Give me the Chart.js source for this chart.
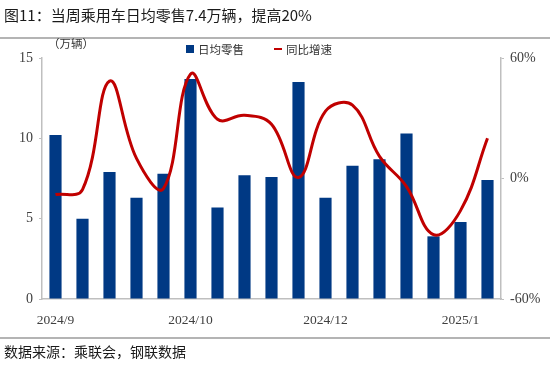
<!DOCTYPE html>
<html>
<head>
<meta charset="utf-8">
<script src="https://cdn.jsdelivr.net/npm/chart.js@4/dist/chart.umd.min.js"></script>
<style>
  html, body { margin: 0; padding: 0; background: #fff; }
  #wrap { position: relative; width: 550px; height: 367px; overflow: hidden;
          font-family: "Noto Sans CJK SC", "Noto Sans", sans-serif; color: #222; }
  #chart { position: absolute; left: 0; top: 0; }
  .txt { position: absolute; white-space: nowrap; }
  #title { left: 4px; top: 4px; font-size: 15px; color: #1a1a1a; }
  .rule { position: absolute; left: 0; width: 550px; border-top: 2px solid #b4b4b4; }
  #unit { left: 48px; top: 35px; font-size: 11.5px; color: #333; }
  #legend { left: 186px; top: 39px; font-size: 11.5px; color: #333; }
  #legend span { display: inline-block; vertical-align: middle; }
  .sw-bar { width: 8px; height: 8px; background: #003984; margin-right: 4px; }
  .sw-line { width: 8px; height: 2px; background: #c00000; margin-left: 30px; margin-right: 4px; }
  #source { left: 4px; top: 341px; font-size: 14px; color: #1a1a1a; }
</style>
</head>
<body>
<div id="wrap">
  <canvas id="chart" width="550" height="367"></canvas>
  <div class="txt" id="title">图11：当周乘用车日均零售7.4万辆，提高20%</div>
  <div class="rule" style="top:37px"></div>
  <div class="txt" id="unit">（万辆）</div>
  <div class="txt" id="legend"><span class="sw-bar"></span><span>日均零售</span><span class="sw-line"></span><span>同比增速</span></div>
  <div class="rule" style="top:337px"></div>
  <div class="txt" id="source">数据来源：乘联会，钢联数据</div>
</div>
<script>
// weekly categories, only some carry a visible label (as in the source chart)
const categories = ['2024/9', '', '', '', '', '2024/10', '', '', '', '', '2024/12', '', '', '', '', '2025/1', ''];
// daily average retail, 10k vehicles
const dailyRetail = [10.2, 5.0, 7.9, 6.3, 7.8, 13.7, 5.7, 7.7, 7.6, 13.5, 6.3, 8.3, 8.7, 10.3, 3.9, 4.8, 7.4];
// YoY growth, %
const yoyGrowth = [-8, -5.5, 48.5, 10, -5, 52, 29.5, 31.5, 27, 0.5, 33.5, 36.5, 11, -4, -28, -16, 20];
const leftTicks = [0, 5, 10, 15];
const rightTicks = [-60, 0, 60];

const AXIS = '#bfbfbf';
const INK = '#404040';
const SERIF = '"Liberation Serif", "DejaVu Serif", serif';

new Chart(document.getElementById('chart').getContext('2d'), {
  data: {
    labels: categories,
    datasets: [
      {
        type: 'line',
        label: '同比增速',
        data: yoyGrowth,
        yAxisID: 'y1',
        borderColor: '#c00000',
        borderWidth: 3,
        pointRadius: 0,
        tension: 0.4,
        fill: false,
        order: 0,
      },
      {
        type: 'bar',
        label: '日均零售',
        data: dailyRetail,
        yAxisID: 'y',
        backgroundColor: '#003984',
        barPercentage: 0.45,
        categoryPercentage: 1,
        order: 1,
      },
    ],
  },
  options: {
    responsive: false,
    animation: false,
    layout: { padding: { top: 58, left: 0, right: 0, bottom: 0 } },
    plugins: { legend: { display: false }, tooltip: { enabled: false } },
    scales: {
      x: {
        grid: { display: false },
        border: { color: AXIS, width: 1.5 },
        ticks: { autoSkip: false, maxRotation: 0, padding: 5, color: INK, font: { family: SERIF, size: 13.5 } },
        afterFit: (s) => { s.height = 68; },
      },
      y: {
        position: 'left',
        min: 0, max: 15,
        afterBuildTicks: (s) => { s.ticks = leftTicks.map((v) => ({ value: v })); },
        grid: { drawOnChartArea: false, tickLength: 3, color: AXIS },
        border: { color: AXIS, width: 1.5 },
        ticks: { padding: 6, color: INK, font: { family: SERIF, size: 14 } },
        afterFit: (s) => { s.width = 42; },
      },
      y1: {
        position: 'right',
        min: -60, max: 60,
        afterBuildTicks: (s) => { s.ticks = rightTicks.map((v) => ({ value: v })); },
        grid: { drawOnChartArea: false, tickLength: 3, color: AXIS },
        border: { color: AXIS, width: 1.5 },
        ticks: { padding: 6, color: INK, font: { family: SERIF, size: 14 }, callback: (v) => v + '%' },
        afterFit: (s) => { s.width = 49; },
      },
    },
  },
});
</script>
</body>
</html>
